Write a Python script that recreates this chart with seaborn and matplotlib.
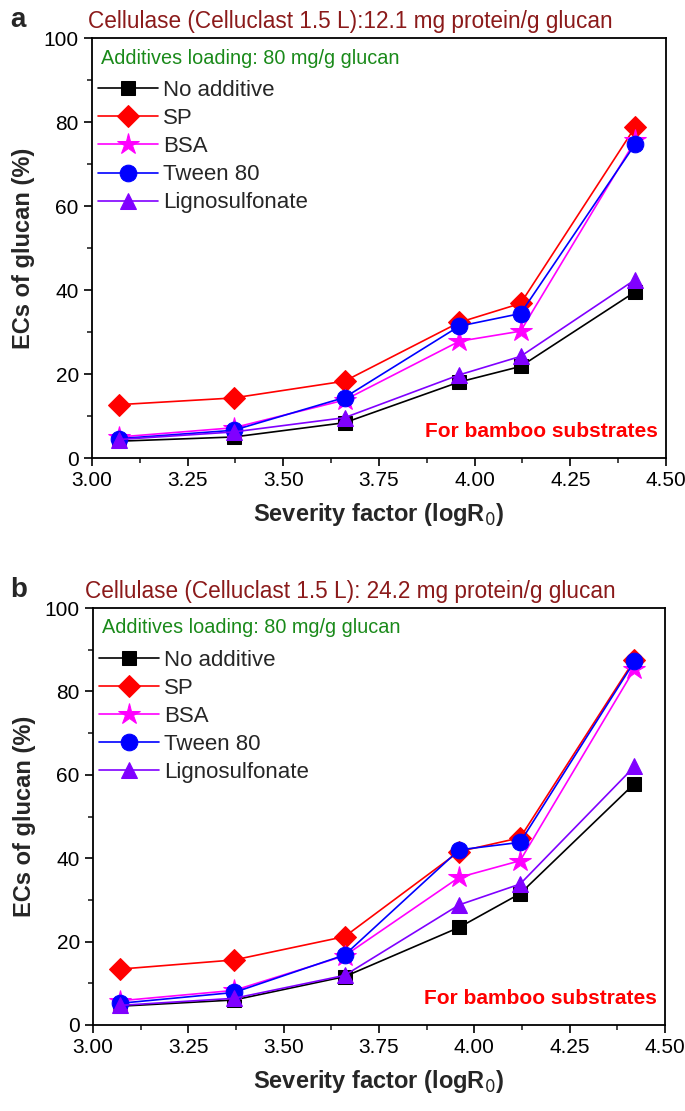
import matplotlib
matplotlib.use("Agg")
import matplotlib.pyplot as plt
import seaborn as sns
import pandas as pd
from matplotlib.ticker import MultipleLocator

severity = [3.07, 3.37, 3.66, 3.96, 4.12, 4.42]
series_names = ["No additive", "SP", "BSA", "Tween 80", "Lignosulfonate"]

# Panel a: 12.1 mg protein/g glucan
a_no_additive = [4.0, 5.0, 8.4, 18.1, 21.8, 39.6]
a_sp = [12.7, 14.3, 18.3, 32.3, 36.8, 78.9]
a_bsa = [5.0, 7.2, 13.8, 27.8, 30.2, 75.6]
a_tween = [4.6, 6.6, 14.4, 31.4, 34.4, 74.8]
a_ligno = [4.4, 6.2, 9.6, 19.8, 24.2, 42.5]

# Panel b: 24.2 mg protein/g glucan
b_no_additive = [4.5, 6.0, 11.6, 23.4, 31.5, 57.9]
b_sp = [13.4, 15.6, 21.2, 41.6, 44.9, 87.6]
b_bsa = [5.8, 8.3, 16.6, 35.4, 39.4, 85.4]
b_tween = [5.2, 7.8, 16.8, 42.0, 43.8, 87.2]
b_ligno = [4.7, 6.4, 11.9, 28.8, 33.8, 62.0]

xticks = [3.00, 3.25, 3.50, 3.75, 4.00, 4.25, 4.50]
yticks = [0, 20, 40, 60, 80, 100]

titles = ["Cellulase (Celluclast 1.5 L):12.1 mg protein/g glucan",
          "Cellulase (Celluclast 1.5 L): 24.2 mg protein/g glucan"]
panel_labels = ["a", "b"]

sns.set_theme(style="ticks")
plt.rcParams['font.family'] = ['Liberation Sans', 'DejaVu Sans']

styles = {
    "No additive": dict(color="black", marker="s", ms=10),
    "SP": dict(color="#ff0000", marker="D", ms=11),
    "BSA": dict(color="#ff00ff", marker="*", ms=16),
    "Tween 80": dict(color="#0000ff", marker="o", ms=12),
    "Lignosulfonate": dict(color="#8000ff", marker="^", ms=12),
}

fig = plt.figure(figsize=(6.85, 11.11), dpi=100)
W, H = 685, 1111
boxes = [(92, 38, 666, 458), (93, 608, 665, 1025)]
datasets = [
    [a_no_additive, a_sp, a_bsa, a_tween, a_ligno],
    [b_no_additive, b_sp, b_bsa, b_tween, b_ligno],
]

for i, (box, data) in enumerate(zip(boxes, datasets)):
    l, t, r, b = box
    ax = fig.add_axes([l / W, 1 - b / H, (r - l) / W, (b - t) / H])
    rows = []
    for name, vals in zip(series_names, data):
        for x, v in zip(severity, vals):
            rows.append({"severity": x, "ec": v, "series": name})
    df = pd.DataFrame(rows)
    for name in series_names:
        st = styles[name]
        sub = df[df["series"] == name]
        sns.lineplot(data=sub, x="severity", y="ec", ax=ax, color=st["color"],
                     marker=st["marker"], markersize=st["ms"],
                     markeredgecolor=st["color"], markerfacecolor=st["color"],
                     linewidth=1.2, label=name, estimator=None)
    ax.set_xlim(3.0, 4.5)
    ax.set_ylim(0, 100)
    ax.set_xticks(xticks)
    ax.set_xticklabels([f"{v:.2f}" for v in xticks])
    ax.set_yticks(yticks)
    ax.xaxis.set_minor_locator(MultipleLocator(0.125))
    ax.yaxis.set_minor_locator(MultipleLocator(10))
    ax.tick_params(axis="both", which="major", direction="out", length=6, width=1.2,
                   labelsize=15, colors="black", top=False, right=False)
    ax.tick_params(axis="both", which="minor", direction="out", length=3.5, width=1.2,
                   top=False, right=False)
    for s in ax.spines.values():
        s.set_linewidth(1.3)
        s.set_color("black")
        s.set_visible(True)
    ax.set_xlabel("Severity factor (logR$_0$)", fontsize=17, fontweight="bold", labelpad=8)
    ax.set_ylabel("ECs of glucan (%)", fontsize=17, fontweight="bold", labelpad=6)
    ax.legend(loc="upper left", bbox_to_anchor=(0.01, 0.90), frameon=False,
              fontsize=16, handlelength=2.7, handletextpad=0.25,
              labelspacing=0.32, borderaxespad=0.0, borderpad=0.0)
    ax.text(0.015, 0.975, "Additives loading: 80 mg/g glucan", transform=ax.transAxes,
            color="#1a8a1a", fontsize=14.3, ha="left", va="top")
    ax.text(0.985, 0.04, "For bamboo substrates", transform=ax.transAxes,
            color="#ff0000", fontsize=15, fontweight="bold", ha="right", va="bottom")
    ax.text(0.45, 1.012, titles[i], transform=ax.transAxes, color="#8b1a1a",
            fontsize=16.3, ha="center", va="bottom")
    fig.text(10 / W, 1 - (t - 18) / H, panel_labels[i], fontsize=20, fontweight="bold",
             ha="left", va="center")

fig.savefig("out.png", dpi=100)
